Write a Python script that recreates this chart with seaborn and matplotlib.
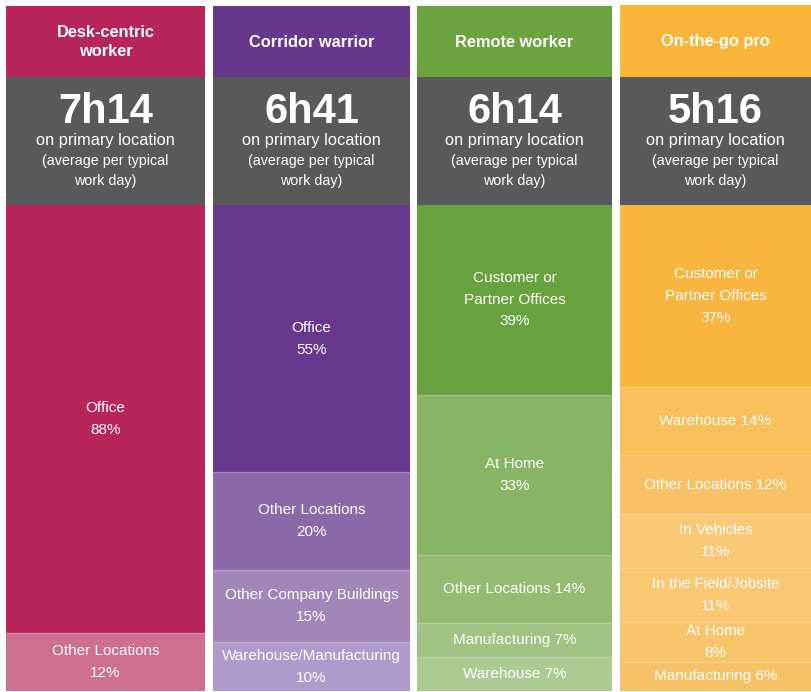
import numpy as np
import pandas as pd
import matplotlib.pyplot as plt
import seaborn as sns


# ----------------------------
# Data
# ----------------------------

personas = ["Desk-centric\nworker", "Corridor warrior", "Remote worker", "On-the-go pro"]
hours = ["7h14", "6h41", "6h14", "5h16"]

desk_places = ["Office", "Other Locations"]
desk_pct = [88, 12]
desk_sep = ["\n", "\n"]

corridor_places = ["Office", "Other Locations", "Other Company Buildings",
                   "Warehouse/Manufacturing"]
corridor_pct = [55, 20, 15, 10]
corridor_sep = ["\n", "\n", "\n", "\n"]

remote_places = ["Customer or\nPartner Offices", "At Home", "Other Locations",
                 "Manufacturing", "Warehouse"]
remote_pct = [39, 33, 14, 7, 7]
remote_sep = ["\n", "\n", " ", " ", " "]

otg_places = ["Customer or\nPartner Offices", "Warehouse", "Other Locations",
              "In Vehicles", "In the Field/Jobsite", "At Home", "Manufacturing"]
otg_pct = [37, 14, 12, 11, 11, 8, 6]
otg_sep = ["\n", " ", " ", "\n", "\n", "\n", " "]

header_colors = ["#B8255A", "#67368D", "#6BA33F", "#F9B43A"]
segment_colors = [
    ["#B8255A", "#CE6F91"],
    ["#67388E", "#8B68A8", "#A286B9", "#B09ACB"],
    ["#68A23E", "#88B466", "#95BA72", "#A0C283", "#ABCB92"],
    ["#F8B640", "#F9BF5A", "#F9C163", "#FAC978", "#FAC772", "#F9C56B", "#F8C165"],
]
gray = "#58595B"

places = [desk_places, corridor_places, remote_places, otg_places]
pcts = [desk_pct, corridor_pct, remote_pct, otg_pct]
seps = [desk_sep, corridor_sep, remote_sep, otg_sep]


# ----------------------------
# Layout (pixel edges of the four columns)
# ----------------------------

W, H = 811, 692
col_edges = [(6, 205), (213, 410), (417, 612), (620, 811)]
col_tops = [6, 6, 6, 5]
head_bottom, gray_bottom, base = 77, 205, 691

sns.set_theme(style="white")
plt.rcParams["font.family"] = ["Liberation Sans", "DejaVu Sans"]

fig = plt.figure(figsize=(W / 100, H / 100), dpi=100)
fig.patch.set_facecolor("white")


def px_axes(x_a, x_b, y_top, y_bot):
    return fig.add_axes([x_a / W, (H - y_bot) / H, (x_b - x_a) / W,
                         (y_bot - y_top) / H])


for i, (names, vals, sp) in enumerate(zip(places, pcts, seps)):
    xa, xb = col_edges[i]

    # header: coloured title box + dark time box
    ax_t = px_axes(xa, xb, col_tops[i], head_bottom)
    ax_t.set_facecolor(header_colors[i])
    ax_t.set_xticks([])
    ax_t.set_yticks([])
    for s in ax_t.spines.values():
        s.set_visible(False)
    ax_t.text(0.5, 0.49, personas[i], transform=ax_t.transAxes, ha="center",
              va="center", color="white", fontsize=11.8, fontweight="bold",
              linespacing=1.35)

    ax_g = px_axes(xa, xb, head_bottom, gray_bottom)
    ax_g.set_facecolor(gray)
    ax_g.set_xticks([])
    ax_g.set_yticks([])
    for s in ax_g.spines.values():
        s.set_visible(False)
    ax_g.set_xlim(0, 1)
    ax_g.set_ylim(128, 0)
    ax_g.text(0.5, 35, hours[i], ha="center", va="center", color="white",
              fontsize=30, fontweight="bold")
    ax_g.text(0.5, 64, "on primary location", ha="center", va="center",
              color="white", fontsize=11.8)
    ax_g.text(0.5, 94, "(average per typical\nwork day)", ha="center",
              va="center", color="white", fontsize=10.3, linespacing=1.5)

    # stacked shares, each column filled to 100
    total = sum(vals)
    seg = pd.DataFrame({
        "place": names,
        "pct": vals,
        "sep": sp,
        "color": segment_colors[i][:len(vals)],
    })
    seg["share"] = seg["pct"] / total * 100
    seg["end"] = seg["share"].cumsum()
    seg["start"] = seg["end"] - seg["share"]
    seg["col"] = "c"

    ax = px_axes(xa, xb, gray_bottom, base)

    # deepest segment first, upper segments painted over it
    for k in range(len(seg) - 1, -1, -1):
        sns.barplot(
            data=seg.iloc[[k]], x="col", y="end",
            color=seg["color"].iloc[k], saturation=1, width=1,
            errorbar=None, linewidth=0, ax=ax
        )

    ax.hlines(seg["start"].iloc[1:], -0.5, 0.5, colors="white",
              alpha=0.22, linewidth=1)

    ax.set_xlim(-0.5, 0.5)
    ax.set_ylim(100, 0)
    ax.axis("off")

    for _, r in seg.iterrows():
        ax.text(0, (r["start"] + r["end"]) / 2,
                f"{r['place']}{r['sep']}{r['pct']}%",
                ha="center", va="center", color="white", fontsize=11,
                linespacing=1.7)

fig.savefig("out.png", dpi=100)
